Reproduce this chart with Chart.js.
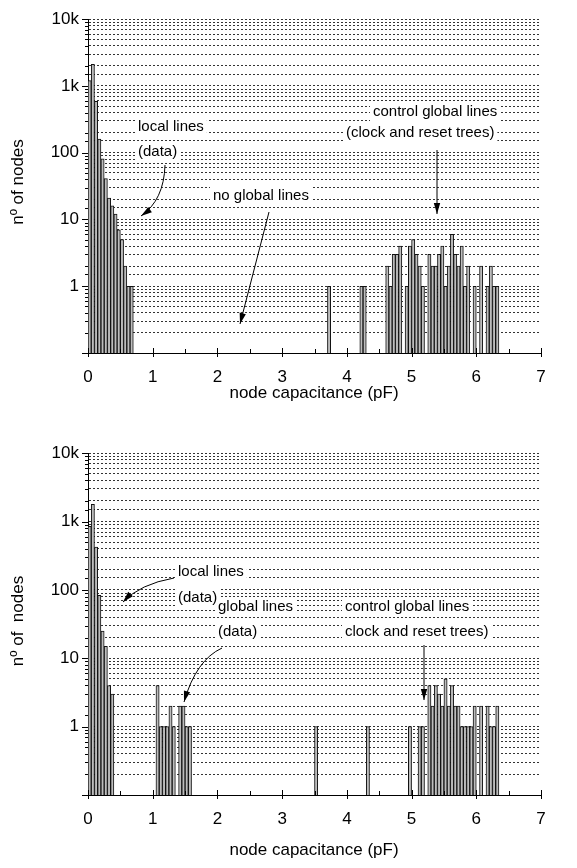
<!DOCTYPE html>
<html>
<head>
<meta charset="utf-8">
<script src="https://cdn.jsdelivr.net/npm/chart.js@4.4.0/dist/chart.umd.min.js"></script>
<style>
    html, body { margin: 0; padding: 0; background: #fff; }
    .box { width: 577px; height: 434px; position: relative; }
</style>
</head>
<body>
<div class="box"><canvas id="top-chart" width="577" height="434"></canvas></div>
<div class="box"><canvas id="bottom-chart" width="577" height="434"></canvas></div>
<script>
const binWidth = 0.05;

// upper histogram: runs of adjacent bins (start of first bin, counts)
const topLocalStart = 0.00;
const topLocalCounts = [1200, 2100, 590, 160, 81, 41, 21, 16, 12, 7, 5, 2, 1, 1];
const topSingleStarts = [3.70, 4.20, 4.25];
const topSingleCounts = [1, 1, 1];
const topControlStart = 4.60;
const topControlCounts = [2, 1, 3, 3, 4, 0, 1, 4, 5, 3, 2, 1, 0, 3, 2, 2, 3, 4, 1, 2, 6, 3, 2, 4, 1, 2, 0, 1, 0, 2, 0, 1, 2, 1, 1];

// lower histogram
const bottomLocalStart = 0.00;
const bottomLocalCounts = [850, 1780, 425, 83, 25, 15, 4, 3];
const bottomGlobalStart = 1.05;
const bottomGlobalCounts = [4, 1, 1, 1, 2, 1, 0, 2, 2, 1, 1];
const bottomSingleStarts = [3.50, 4.30];
const bottomSingleCounts = [1, 1];
const bottomControlStart = 4.95;
const bottomControlCounts = [1, 0, 0, 1, 1, 0, 4, 2, 4, 3, 2, 5, 2, 4, 2, 2, 1, 1, 1, 1, 2, 0, 2, 0, 2, 1, 1, 2];

const decadeLabels = { 1: "1", 10: "10", 100: "100", 1000: "1k", 10000: "10k" };

const FONT = "Liberation Sans, Arial, sans-serif";

function runToPoints(start, counts, points) {
    counts.forEach((c, i) => {
        if (c > 0) {
            points.push({ x: start + (i + 0.5) * binWidth, y: c });
        }
    });
}

function buildPoints(runs) {
    let points = [];
    runs.forEach((r) => runToPoints(r[0], r[1], points));
    return points;
}

let topPoints = buildPoints([
    [topLocalStart, topLocalCounts],
    [topControlStart, topControlCounts]
]);
topSingleStarts.forEach((s, i) => runToPoints(s, [topSingleCounts[i]], topPoints));

let bottomPoints = buildPoints([
    [bottomLocalStart, bottomLocalCounts],
    [bottomGlobalStart, bottomGlobalCounts],
    [bottomControlStart, bottomControlCounts]
]);
bottomSingleStarts.forEach((s, i) => runToPoints(s, [bottomSingleCounts[i]], bottomPoints));

// tick marks on both axes, drawn by hand (major longer than minor)
const axisTicks = {
    id: "axisTicks",
    afterDraw(chart) {
        const ctx = chart.ctx;
        const xs = chart.scales.x;
        const ys = chart.scales.y;
        const area = chart.chartArea;
        ctx.save();
        ctx.strokeStyle = "#000";
        ctx.lineWidth = 1;
        ctx.beginPath();
        for (let k = 0; k <= 14; k++) {
            const px = Math.round(xs.getPixelForValue(k * 0.5)) + 0.5;
            const major = k % 2 === 0;
            ctx.moveTo(px, area.bottom - (major ? 5 : 4));
            ctx.lineTo(px, area.bottom + (major ? 4 : 0));
        }
        ys.ticks.forEach((t) => {
            const py = Math.round(ys.getPixelForValue(t.value)) + 0.5;
            const lg = Math.log10(t.value);
            const major = Math.abs(lg - Math.round(lg)) < 1e-6;
            ctx.moveTo(area.left - (major ? 6 : 3), py);
            ctx.lineTo(area.left, py);
        });
        ctx.stroke();
        ctx.restore();
    }
};

function drawArrow(ctx, a) {
    ctx.beginPath();
    ctx.moveTo(a.from[0], a.from[1]);
    let cx = a.from[0];
    let cy = a.from[1];
    if (a.ctrl) {
        ctx.quadraticCurveTo(a.ctrl[0], a.ctrl[1], a.to[0], a.to[1]);
        cx = a.ctrl[0];
        cy = a.ctrl[1];
    } else {
        ctx.lineTo(a.to[0], a.to[1]);
    }
    ctx.stroke();
    const ang = Math.atan2(a.to[1] - cy, a.to[0] - cx);
    const len = 11;
    const half = 3.2;
    ctx.beginPath();
    ctx.moveTo(a.to[0], a.to[1]);
    ctx.lineTo(a.to[0] - len * Math.cos(ang) + half * Math.sin(ang), a.to[1] - len * Math.sin(ang) - half * Math.cos(ang));
    ctx.lineTo(a.to[0] - len * Math.cos(ang) - half * Math.sin(ang), a.to[1] - len * Math.sin(ang) + half * Math.cos(ang));
    ctx.closePath();
    ctx.fill();
}

// labels with a white box behind them, arrows and axis titles
const notes = {
    id: "notes",
    afterDraw(chart, args, opts) {
        const ctx = chart.ctx;
        ctx.save();
        ctx.font = "15px " + FONT;
        ctx.textBaseline = "middle";
        ctx.textAlign = "left";
        (opts.texts || []).forEach((n) => {
            const w = ctx.measureText(n.t).width;
            ctx.fillStyle = "#fff";
            ctx.fillRect(n.x - 3, n.y - 10, w + 6, 20);
        });
        ctx.fillStyle = "#000";
        (opts.texts || []).forEach((n) => ctx.fillText(n.t, n.x, n.y));

        ctx.strokeStyle = "#000";
        ctx.lineWidth = 1;
        (opts.arrows || []).forEach((a) => drawArrow(ctx, a));

        ctx.font = "17px " + FONT;
        ctx.textAlign = "center";
        if (opts.xTitle) {
            ctx.fillText(opts.xTitle.t, opts.xTitle.x, opts.xTitle.y);
        }
        if (opts.yTitle) {
            ctx.translate(opts.yTitle.x, opts.yTitle.y);
            ctx.rotate(-Math.PI / 2);
            ctx.fillText(opts.yTitle.t, 0, 0);
        }
        ctx.restore();
    }
};

function makeChart(id, points, topPad, xHeight, noteOpts) {
    let ctx = document.getElementById(id).getContext("2d");
    return new Chart(ctx, {
        type: "bar",
        data: {
            datasets: [
                {
                    data: points,
                    backgroundColor: "#bdbdbd",
                    borderColor: "#111",
                    borderWidth: 1,
                    barPercentage: 1,
                    categoryPercentage: 1
                }
            ]
        },
        options: {
            responsive: false,
            animation: false,
            layout: {
                padding: { left: 0, right: 36, top: topPad, bottom: 0 }
            },
            plugins: {
                legend: { display: false },
                tooltip: { enabled: false },
                notes: noteOpts
            },
            scales: {
                x: {
                    type: "linear",
                    min: 0,
                    max: 7,
                    offset: false,
                    afterFit: (scale) => { scale.height = xHeight; },
                    grid: { display: false },
                    border: { display: true, color: "#000", width: 1 },
                    ticks: {
                        stepSize: 0.5,
                        autoSkip: false,
                        maxRotation: 0,
                        padding: 6,
                        color: "#000",
                        font: { family: FONT, size: 17 },
                        callback: (v) => (Math.abs(v - Math.round(v)) < 1e-6 ? String(Math.round(v)) : "")
                    }
                },
                y: {
                    type: "logarithmic",
                    min: 0.1,
                    max: 10000,
                    afterFit: (scale) => { scale.width = 88; },
                    grid: { display: true, color: "#333", lineWidth: 1, drawTicks: false },
                    border: { display: true, color: "#000", width: 1, dash: [2, 2] },
                    ticks: {
                        autoSkip: false,
                        padding: 9,
                        color: "#000",
                        font: { family: FONT, size: 17 },
                        callback: (v) => decadeLabels[v] || ""
                    }
                }
            }
        },
        plugins: [axisTicks, notes]
    });
}

document.addEventListener("DOMContentLoaded", function () {
    makeChart("top-chart", topPoints, 10, 81, {
        texts: [
            { t: "local lines", x: 138, y: 127 },
            { t: "(data)", x: 138, y: 152 },
            { t: "no global lines", x: 213, y: 196 },
            { t: "control global lines", x: 373, y: 112 },
            { t: "(clock and reset trees)", x: 346, y: 133 }
        ],
        arrows: [
            { from: [165, 165], ctrl: [164, 200], to: [141, 216] },
            { from: [269, 212], to: [240, 324] },
            { from: [437, 150], to: [437, 214] }
        ],
        xTitle: { t: "node capacitance (pF)", x: 314, y: 393 },
        yTitle: { t: "nº of nodes", x: 18, y: 182 }
    });

    makeChart("bottom-chart", bottomPoints, 18, 73, {
        texts: [
            { t: "local lines", x: 178, y: 138 },
            { t: "(data)", x: 178, y: 164 },
            { t: "global lines", x: 218, y: 173 },
            { t: "(data)", x: 218, y: 198 },
            { t: "control global lines", x: 345, y: 173 },
            { t: "clock and reset trees)", x: 345, y: 198 }
        ],
        arrows: [
            { from: [174, 144], ctrl: [140, 150], to: [123, 168] },
            { from: [222, 214], ctrl: [196, 226], to: [184, 268] },
            { from: [424, 211], to: [424, 266] }
        ],
        xTitle: { t: "node capacitance (pF)", x: 314, y: 416 },
        yTitle: { t: "nº of  nodes", x: 18, y: 187 }
    });
});
</script>
</body>
</html>
